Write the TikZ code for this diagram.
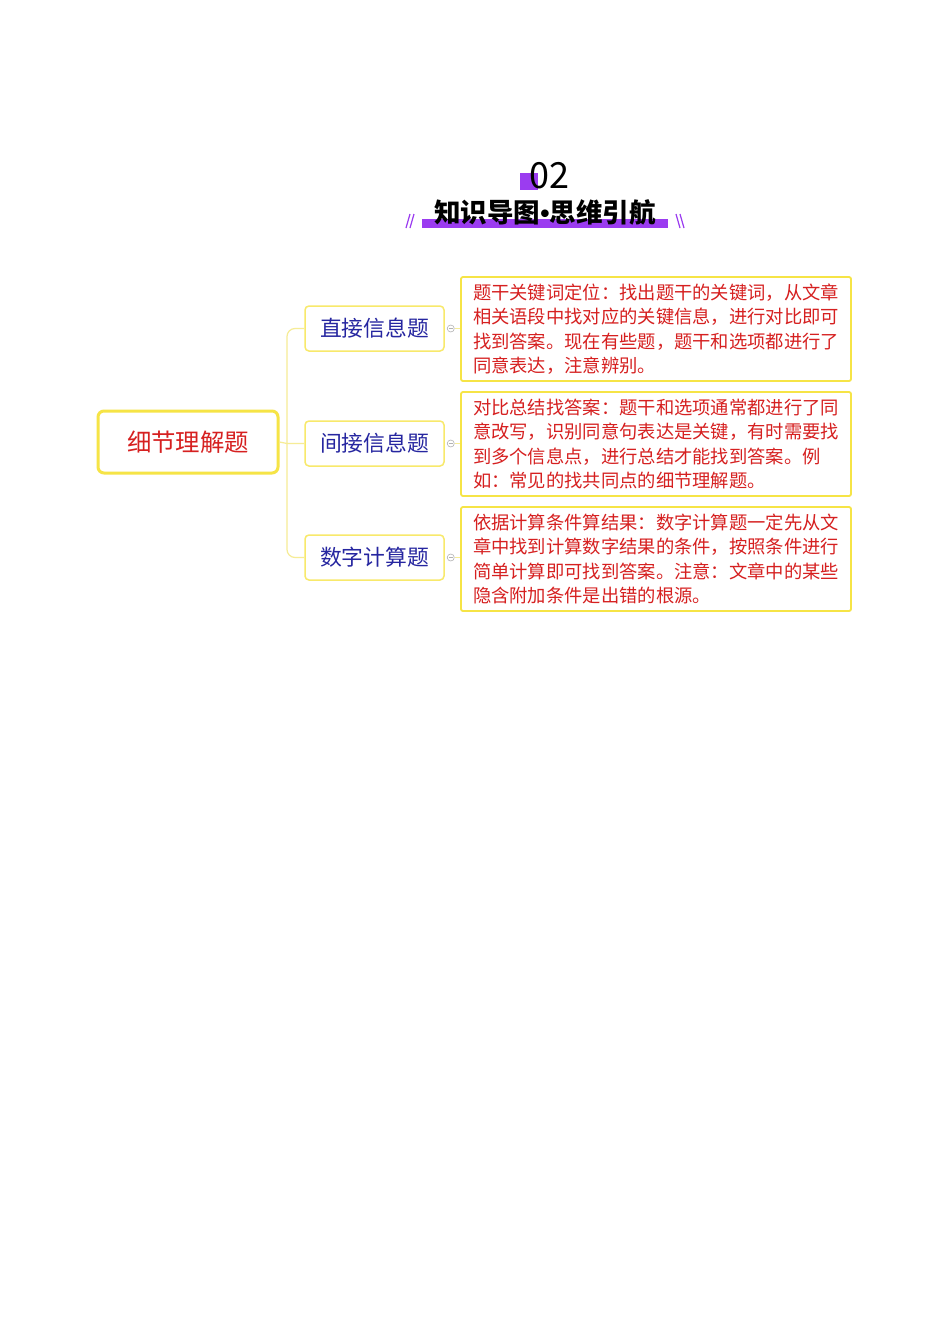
\documentclass[tikz,border=0pt]{standalone}
\usepackage{fontspec}
\setmainfont{Noto Sans CJK SC}
\newfontfamily\dotfont{Liberation Sans}
\usepackage{tikz}

\definecolor{mpurple}{RGB}{155,60,240}
\definecolor{myellow}{RGB}{246,228,70}
\definecolor{mlink}{RGB}{246,236,150}
\definecolor{mred}{RGB}{214,32,32}
\definecolor{mblue}{RGB}{38,38,160}

\begin{document}
\begin{tikzpicture}[x=1pt,y=-1pt,
    rootbox/.style={draw=myellow, line width=3pt, rounded corners=6pt,
      minimum width=180pt, minimum height=62pt, text=mred,
      font=\fontsize{24.4}{27}\selectfont},
    topicbox/.style={draw=myellow!80, line width=1.5pt, rounded corners=4pt,
      minimum width=139pt, minimum height=45pt, text=mblue,
      font=\fontsize{21.8}{24}\selectfont},
    notebox/.style={draw=myellow, line width=1.8pt, rounded corners=2pt,
      minimum width=390pt, minimum height=104pt, text width=366pt,
      inner xsep=12pt, align=left, text=mred,
      font=\fontsize{18.3}{24.5}\selectfont},
    nub/.style={circle, draw=gray!60, line width=0.6pt, inner sep=0pt,
      minimum size=7pt},
    link/.style={draw=mlink, line width=1.2pt}]
  \fill[white] (0,0) rectangle (950,1344);
  \useasboundingbox (0,0) rectangle (950,1344);

  % heading
  \fill[mpurple] (520,173) rectangle (538,190);
  \node (num) at (549,176) {\fontsize{36}{40}\selectfont 02};
  \fill[mpurple] (422,219) rectangle (668,228);
  \node (title) at (545,212) {\fontsize{26.5}{28}\selectfont\bfseries 知识导图{\dotfont\bfseries •}思维引航};
  \draw[mpurple, line width=1.2pt]
    (406,228) -- (410,214) (410,228) -- (414,214)
    (676,214) -- (680,228) (680,214) -- (684,228);

  % map
  \node[rootbox] (root) at (188,442) {细节理解题};
  \node[topicbox] (direct) at (374.5,328.5) {直接信息题};
  \node[topicbox] (indirect) at (374.5,443.5) {间接信息题};
  \node[topicbox] (numeric) at (374.5,557.5) {数字计算题};

  \node[notebox] (n1) at (656,329) {题干关键词定位：找出题干的关键词，从文章\\
    相关语段中找对应的关键信息，进行对比即可\\
    找到答案。现在有些题，题干和选项都进行了\\
    同意表达，注意辨别。};
  \node[notebox] (n2) at (656,444) {对比总结找答案：题干和选项通常都进行了同\\
    意改写，识别同意句表达是关键，有时需要找\\
    到多个信息点，进行总结才能找到答案。例\\
    如：常见的找共同点的细节理解题。};
  \node[notebox] (n3) at (656,559) {依据计算条件算结果：数字计算题一定先从文\\
    章中找到计算数字结果的条件，按照条件进行\\
    简单计算即可找到答案。注意：文章中的某些\\
    隐含附加条件是出错的根源。};

  \coordinate (hub) at (287,442);
  \draw[link] (root.east) -- (hub |- indirect.west) -- (indirect.west);
  \draw[link, rounded corners=8pt] (direct.west) -| (hub) |- (numeric.west);

  \foreach \t/\n in {direct/n1,indirect/n2,numeric/n3} {
    \node[nub] (\t-nub) at ([xshift=6pt]\t.east) {};
    \draw[gray!60, line width=0.6pt] ([xshift=-2pt]\t-nub.center) -- ([xshift=2pt]\t-nub.center);
    \draw[link] (\t-nub.east) -- (\t-nub.east -| \n.west);
  }
\end{tikzpicture}
\end{document}
